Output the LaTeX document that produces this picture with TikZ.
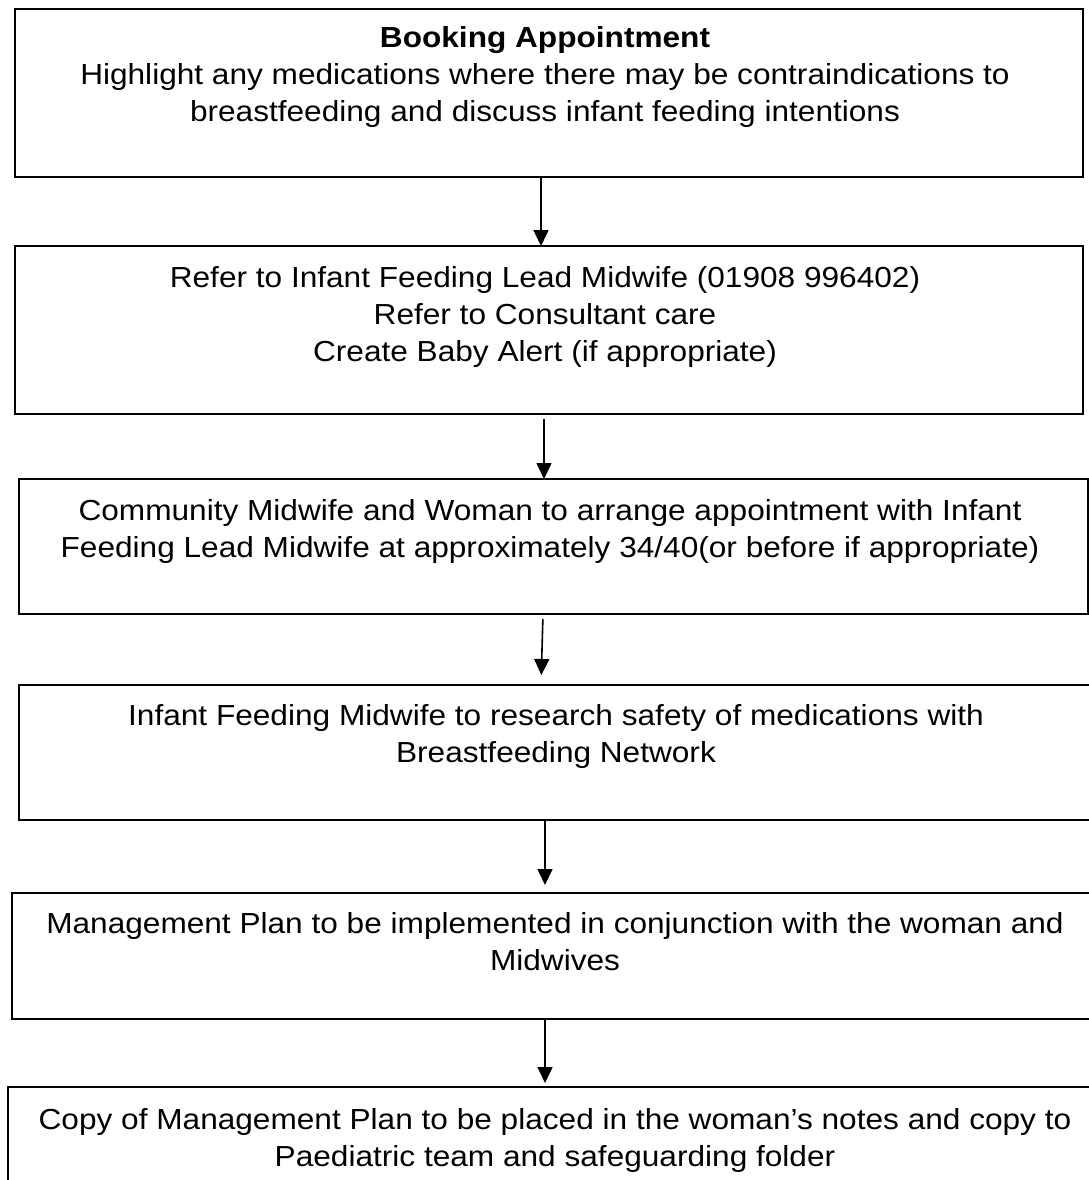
\documentclass[tikz,border=0pt]{standalone}
\usepackage{fontspec}
\setmainfont[FakeStretch=1.09]{Liberation Sans}
\usetikzlibrary{arrows.meta}
\begin{document}
\begin{tikzpicture}[x=1pt,y=-1pt,
  box/.style={draw=black,line width=2pt,rectangle,inner sep=0pt,outer sep=0pt},
  txt/.style={anchor=north,align=center,inner sep=0pt,font=\fontsize{29}{37}\selectfont},
  arr/.style={draw=black,line width=1.6pt,-{Triangle[length=16pt,width=15pt]}}]
\useasboundingbox (0,0) rectangle (1089,1180);
\clip (0,0) rectangle (1089,1180);
\fill[white] (0,0) rectangle (1089,1180);
% boxes
\node[box,minimum width=1068pt,minimum height=168pt] (b1) at (549,93) {};
\node[box,minimum width=1068pt,minimum height=168pt] (b2) at (549,330) {};
\node[box,minimum width=1069pt,minimum height=135pt] (b3) at (553.5,546.5) {};
\node[box,minimum width=1081pt,minimum height=135pt] (b4) at (559.5,752.5) {};
\node[box,minimum width=1088pt,minimum height=126pt] (b5) at (556,956) {};
\node[box,minimum width=1092pt,minimum height=163pt] (b6) at (554,1168.5) {};
% texts
\node[txt] (t1) at (545,21) {\strut\textbf{Booking Appointment}\\Highlight any medications where there may be contraindications to\\breastfeeding and discuss infant feeding intentions};
\node[txt] (t2) at (545,261) {\strut Refer to Infant Feeding Lead Midwife (01908 996402)\\Refer to Consultant care\\Create Baby Alert (if appropriate)};
\node[txt] (t3) at (550,494) {\strut Community Midwife and Woman to arrange appointment with Infant\\Feeding Lead Midwife at approximately 34/40(or before if appropriate)};
\node[txt] (t4) at (556,699) {\strut Infant Feeding Midwife to research safety of medications with\\Breastfeeding Network};
\node[txt] (t5) at (555,907) {\strut Management Plan to be implemented in conjunction with the woman and\\Midwives};
\node[txt] (t6) at (555,1103) {\strut Copy of Management Plan to be placed in the woman’s notes and copy to\\Paediatric team and safeguarding folder};
% arrow columns
\coordinate (c1) at (541,0);
\coordinate (c2) at (544,0);
\coordinate (c3a) at (543,0);
\coordinate (c3b) at (541,0);
\coordinate (c4) at (545,0);
\coordinate (c5) at (545,0);
\draw[arr] (b1.south -| c1) -- (b2.north -| c1);
\draw[arr,shorten <=5pt] (b2.south -| c2) -- (b3.north -| c2);
\draw[arr,shorten <=5pt,shorten >=10pt] (b3.south -| c3a) -- (b4.north -| c3b);
\draw[arr,shorten >=8pt] (b4.south -| c4) -- (b5.north -| c4);
\draw[arr,shorten >=4pt] (b5.south -| c5) -- (b6.north -| c5);
\end{tikzpicture}
\end{document}
